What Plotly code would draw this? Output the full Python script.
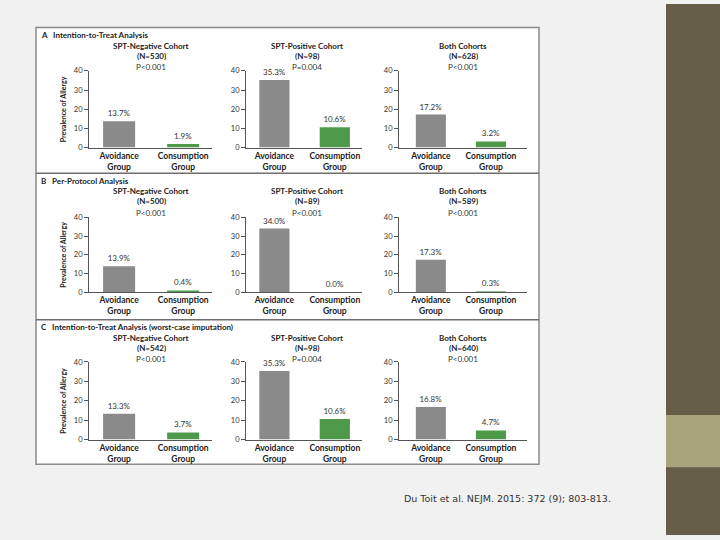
import plotly.graph_objects as go

# data
groups = ["Avoidance<br>Group", "Consumption<br>Group"]
panel_titles = [
    "A   Intention-to-Treat Analysis",
    "B   Per-Protocol Analysis",
    "C   Intention-to-Treat Analysis (worst-case imputation)",
]
cohorts = ["SPT-Negative Cohort", "SPT-Positive Cohort", "Both Cohorts"]
n_values = [
    [530, 98, 628],
    [500, 89, 589],
    [542, 98, 640],
]
p_values = [
    ["P<0.001", "P=0.004", "P<0.001"],
    ["P<0.001", "P<0.001", "P<0.001"],
    ["P<0.001", "P=0.004", "P<0.001"],
]
avoidance = [
    [13.7, 35.3, 17.2],
    [13.9, 34.0, 17.3],
    [13.3, 35.3, 16.8],
]
consumption = [
    [1.9, 10.6, 3.2],
    [0.4, 0.0, 0.3],
    [3.7, 10.6, 4.7],
]
y_ticks = [0, 10, 20, 30, 40]
citation = "Du Toit et al. NEJM. 2015: 372 (9); 803-813."

W, H = 720, 540
GRAY = "#8a8a8a"
GREEN = "#4e9a4a"
TXT = "#333333"
FONT = "Lato, Open Sans, sans-serif"


def px(x):
    return x / W


def py(y):
    return 1 - y / H


# pixel layout of the panels
col_px = [(89, 212), (246, 362), (399, 527)]
col_rng = [(-0.47, 1.45), (-0.47, 1.45), (-0.53, 1.6)]
row_px = [(68, 146), (217, 293), (364, 443)]
panel_px = [(24, 172), (172, 321), (321, 468)]
title_x = [151, 307, 463]

fig = go.Figure()
shapes = []
annotations = []


def note(text, x, y, size, color="#222", **kw):
    d = dict(text=text, x=px(x), y=py(y), xref="paper", yref="paper",
             xanchor="center", yanchor="middle", showarrow=False, borderpad=0,
             font=dict(size=size, color=color, family=kw.pop("family", FONT)))
    d.update(kw)
    annotations.append(d)


# slide background pieces
shapes.append(dict(type="rect", xref="paper", yref="paper", x0=px(666), x1=1, y0=0, y1=1,
                   fillcolor="#665e48", line_width=0, layer="below"))
shapes.append(dict(type="rect", xref="paper", yref="paper", x0=px(666), x1=1, y0=py(471), y1=py(418),
                   fillcolor="#a8a47c", line_width=0, layer="below"))
shapes.append(dict(type="rect", xref="paper", yref="paper", x0=px(36), x1=px(539), y0=py(468), y1=py(24),
                   fillcolor="white", line=dict(color="#8a8a8a", width=1.5), layer="below"))

k = 0
for r in range(3):
    t0, t1 = panel_px[r]
    if r > 0:
        shapes.append(dict(type="line", xref="paper", yref="paper", x0=px(36), x1=px(539),
                           y0=py(t0), y1=py(t0), line=dict(color="#6e6e6e", width=1.5)))
    note(f"<b>{panel_titles[r]}</b>", 40, t0 + 7.5, 8, xanchor="left")
    for c in range(3):
        k += 1
        xa = "x" if k == 1 else f"x{k}"
        ya = "y" if k == 1 else f"y{k}"
        vals = [avoidance[r][c], consumption[r][c]]
        fig.add_trace(go.Bar(
            x=groups, y=vals, xaxis=xa, yaxis=ya, width=0.5,
            marker=dict(color=[GRAY, GREEN], line_width=0),
            text=[f"{v:.1f}%" for v in vals], textposition="outside", cliponaxis=False,
            textfont=dict(size=8, color=TXT, family=FONT), showlegend=False,
        ))
        x0, x1 = col_px[c]
        y0, y1 = row_px[r]
        fig.layout[f"xaxis{k if k > 1 else ''}"] = dict(
            domain=[px(x0), px(x1)], anchor=ya, range=list(col_rng[c]),
            showline=True, linecolor="#555", linewidth=1, ticks="",
            tickfont=dict(size=8.5, color="#222", family=FONT), showgrid=False, fixedrange=True,
            tickvals=groups, ticktext=[f"<b>{g}</b>" for g in groups],
        )
        fig.layout[f"yaxis{k if k > 1 else ''}"] = dict(
            domain=[py(y1), py(y0)], anchor=xa, range=[0, 40], tickvals=y_ticks,
            showline=True, linecolor="#555", linewidth=1, ticks="outside", ticklen=4,
            tickcolor="#555", tickfont=dict(size=7.5, color=TXT, family=FONT),
            showgrid=False, zeroline=False, fixedrange=True,
        )
        if c == 0:
            note("<b>Prevalence of Allergy</b>", 63, (y0 + y1) / 2, 7, textangle=-90)
        note(f"<b>{cohorts[c]}</b>", title_x[c], t0 + 18.5, 8)
        note(f"<b>(N={n_values[r][c]})</b>", title_x[c], t0 + 28.5, 8)
        note(p_values[r][c], title_x[c], t0 + 40.5, 8, color=TXT)

note(citation, 403, 503, 9.5, color=TXT, xanchor="left", family="DejaVu Sans")

fig.update_layout(
    width=W, height=H, margin=dict(l=0, r=0, t=0, b=0),
    paper_bgcolor="#f1f1f1", plot_bgcolor="rgba(0,0,0,0)",
    shapes=shapes, annotations=annotations, bargap=0.5,
)

fig.write_html("out.html", config={"displayModeBar": False},
               post_script="document.body.style.margin='0';")
